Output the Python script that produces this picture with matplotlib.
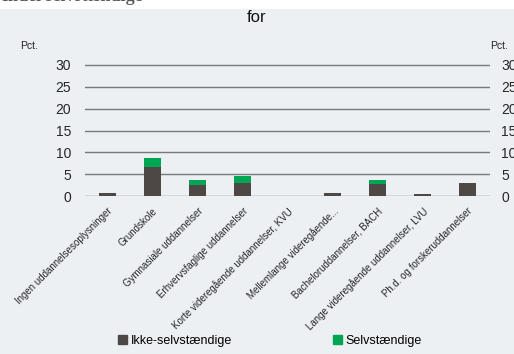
import matplotlib.pyplot as plt
import numpy as np
from matplotlib.patches import Patch, Rectangle

plt.rcParams["font.family"] = ["Liberation Sans", "DejaVu Sans"]

categories = [
    "Ingen uddannelsesoplysninger",
    "Grundskole",
    "Gymnasiale uddannelser",
    "Erhvervsfaglige uddannelser",
    "Korte videregående uddannelser, KVU",
    "Mellemlange videregående...",
    "Bacheloruddannelser, BACH",
    "Lange videregående uddannelser, LVU",
    "Ph.d. og forskeruddannelser",
]
ikke_selvst = [0.75, 6.7, 2.5, 3.05, 0.0, 0.75, 2.7, 0.45, 3.05]
selvst = [0.0, 2.1, 1.1, 1.45, 0.0, 0.0, 0.9, 0.0, 0.0]
yticks = [0, 5, 10, 15, 20, 25, 30]

bg = "#ECF0F3"
dark = "#4D4845"
green = "#00A651"
txt = "#262626"

W, H = 514, 354
fig = plt.figure(figsize=(W / 100, H / 100), dpi=100)
fig.patch.set_facecolor("white")
fig.patches.append(Rectangle((0, 0), 1, 1 - 9 / H, transform=fig.transFigure,
                             facecolor=bg, edgecolor="none", zorder=-10))
# heading above the panel, mostly cut off by the top edge
fig.text(-0.01, 1 - 1 / H, "Andel selvstændige", fontsize=13, fontweight="bold",
         family=["Liberation Serif", "DejaVu Serif"], color="#595959", va="baseline")

ax = fig.add_axes([85 / W, 1 - 196 / H, 405 / W, (196 - 52) / H])
ax.set_facecolor(bg)
x = np.arange(len(categories))
ax.bar(x, ikke_selvst, width=0.38, color=dark, zorder=3)
ax.bar(x, selvst, width=0.38, bottom=ikke_selvst, color=green, zorder=3)

ax.set_xlim(-0.5, len(categories) - 0.5)
ax.set_ylim(0, 30 * 144 / 131)
ax.set_yticks(yticks)
ax.set_yticklabels([str(t) for t in yticks], fontsize=10, color=txt)
ax.tick_params(axis="y", length=0, pad=10)
for t in yticks:
    ax.axhline(t, color="#7a7a7a", lw=1, zorder=1)
for s in ax.spines.values():
    s.set_visible(False)

ax.set_xticks(x)
ax.set_xticklabels(categories, rotation=45, ha="right", rotation_mode="anchor",
                   fontsize=7, color=txt)
ax.tick_params(axis="x", length=0, pad=7)

ax2 = ax.twinx()
ax2.set_ylim(ax.get_ylim())
ax2.set_yticks(yticks)
ax2.set_yticklabels([str(t) for t in yticks], fontsize=10, color=txt)
ax2.tick_params(axis="y", length=0, pad=8)
for s in ax2.spines.values():
    s.set_visible(False)

fig.text(20 / W, 1 - 46 / H, "Pct.", fontsize=7.5, color=txt, va="center")
fig.text(490 / W, 1 - 46 / H, "Pct.", fontsize=7.5, color=txt, va="center")
fig.text(257 / W, 1 - 17 / H, "for", fontsize=12, color="#111111", ha="center", va="center")

handles = [Patch(color=dark, label="Ikke-selvstændige"), Patch(color=green, label="Selvstændige")]
fig.legend(handles=handles, loc="center", bbox_to_anchor=(270 / W, 1 - 341 / H), ncol=2,
           frameon=False, fontsize=9, handlelength=0.7, handleheight=0.7,
           handletextpad=0.3, columnspacing=8.1, borderpad=0)

fig.savefig("out.png", dpi=100, facecolor=fig.get_facecolor())
